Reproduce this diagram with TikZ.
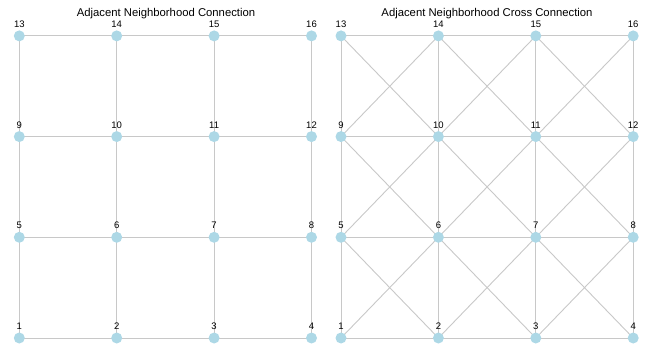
\documentclass[tikz,border=0pt]{standalone}
\usepackage{fontspec}
\setmainfont{Liberation Sans}
\usetikzlibrary{backgrounds}
\definecolor{vertfill}{HTML}{ADD8E6}
\definecolor{edgegray}{HTML}{C8C8C8}
\tikzset{
  vert/.style={circle, fill=vertfill, draw=none, minimum size=11pt, inner sep=0pt},
  numlbl/.style={font=\fontsize{9.5}{10}\selectfont, inner sep=0pt, label distance=2.5pt},
  link/.style={draw=edgegray, line width=0.9pt},
  heading/.style={font=\fontsize{11.3}{12}\selectfont}
}
\begin{document}
\begin{tikzpicture}[x=1pt,y=1pt]
\useasboundingbox (0,0) rectangle (653,359);
% vertices of both grids
\foreach \i in {1,...,16} {
  \pgfmathtruncatemacro\col{mod(\i-1,4)}
  \pgfmathtruncatemacro\row{div(\i-1,4)}
  \node[vert, label={[numlbl]above:\i}] (l\i) at (19.3+97.4*\col, 21+100.7*\row) {};
  \node[vert, label={[numlbl]above:\i}] (r\i) at (341+97.4*\col, 21+100.7*\row) {};
}
\node[heading] (ltitle) at (166,345) {Adjacent Neighborhood Connection};
\node[heading] (rtitle) at (487,345) {Adjacent Neighborhood Cross Connection};
\begin{scope}[on background layer]
% horizontal links
\foreach \i [evaluate=\i as \j using int(\i+1)] in {1,2,3,5,6,7,9,10,11,13,14,15} {
  \draw[link] (l\i.center) -- (l\j.center);
  \draw[link] (r\i.center) -- (r\j.center);
}
% vertical links
\foreach \i [evaluate=\i as \j using int(\i+4)] in {1,...,12} {
  \draw[link] (l\i.center) -- (l\j.center);
  \draw[link] (r\i.center) -- (r\j.center);
}
% cross links, right grid only
\foreach \i in {1,2,3,5,6,7,9,10,11} {
  \pgfmathtruncatemacro\a{\i+5}
  \pgfmathtruncatemacro\b{\i+1}
  \pgfmathtruncatemacro\c{\i+4}
  \draw[link] (r\i.center) -- (r\a.center);
  \draw[link] (r\b.center) -- (r\c.center);
}
\end{scope}
\end{tikzpicture}
\end{document}
